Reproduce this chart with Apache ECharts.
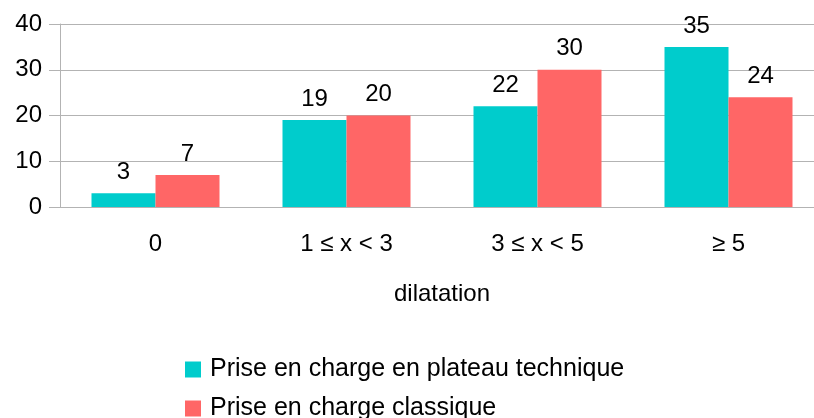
<!DOCTYPE html>
<html lang="fr">
<head>
    <meta charset="UTF-8">
    <title>dilatation</title>
    <script src="https://cdn.jsdelivr.net/npm/echarts@6/dist/echarts.min.js"></script>
    <style>
        html, body { margin: 0; padding: 0; background: #fff; overflow: hidden; }
        /* un peu plus large que la fenêtre : la grille déborde à droite */
        #chart { width: 830px; height: 418px; }
    </style>
</head>
<body>
    <div id="chart"></div>
    <script type="text/javascript">
        // données
        var categories = ['0', '1 ≤ x < 3', '3 ≤ x < 5', '≥ 5'];
        var plateau = [3, 19, 22, 35];
        var classique = [7, 20, 30, 24];
        var seriesNames = ['Prise en charge en plateau technique', 'Prise en charge classique'];

        var myChart = echarts.init(document.getElementById('chart'));
        var font = 'Liberation Sans, Arial, sans-serif';

        // une légende par ligne, empilées verticalement
        function legendItem(name, top) {
            return {
                left: 180,
                top: top,
                itemWidth: 16,
                itemHeight: 16,
                icon: 'rect',
                textStyle: { fontSize: 25, color: '#000', fontFamily: font, padding: [0, 0, 0, 4] },
                data: [name]
            };
        }

        var option = {
            animation: false,
            color: ['#00CCCC', '#FF6666'],
            textStyle: { fontFamily: font },
            grid: { left: 60, top: 24, width: 764, height: 183 },
            legend: [
                legendItem(seriesNames[0], 352),
                legendItem(seriesNames[1], 391)
            ],
            xAxis: {
                type: 'category',
                data: categories,
                name: 'dilatation',
                nameLocation: 'middle',
                nameGap: 75,
                nameTextStyle: { fontSize: 24, color: '#000', fontFamily: font },
                axisLine: { lineStyle: { color: '#b3b3b3' } },
                axisTick: { length: 12, lineStyle: { color: '#b3b3b3' } },
                axisLabel: { fontSize: 24, color: '#000', margin: 25, fontFamily: font }
            },
            yAxis: {
                type: 'value',
                min: 0,
                max: 40,
                interval: 10,
                axisLine: { show: true, lineStyle: { color: '#b3b3b3' } },
                axisTick: { show: true, length: 11, lineStyle: { color: '#b3b3b3' } },
                axisLabel: { fontSize: 24, color: '#000', margin: 18, fontFamily: font },
                splitLine: { lineStyle: { color: '#b3b3b3' } }
            },
            series: [
                {
                    name: seriesNames[0],
                    type: 'bar',
                    data: plateau,
                    barWidth: 64,
                    barGap: '0%',
                    label: { show: true, position: 'top', distance: 9, fontSize: 24, color: '#000', fontFamily: font }
                },
                {
                    name: seriesNames[1],
                    type: 'bar',
                    data: classique,
                    barWidth: 64,
                    barGap: '0%',
                    label: { show: true, position: 'top', distance: 9, fontSize: 24, color: '#000', fontFamily: font }
                }
            ]
        };
        myChart.setOption(option);
    </script>
</body>
</html>
